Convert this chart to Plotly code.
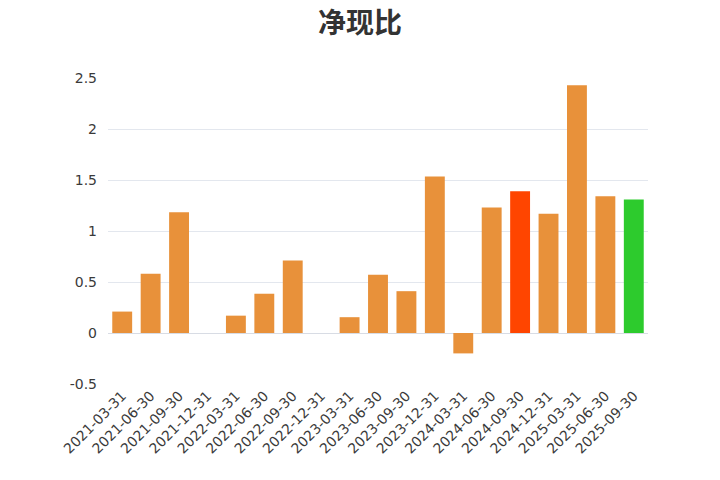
import plotly.graph_objects as go

categories = ["2021-03-31", "2021-06-30", "2021-09-30", "2021-12-31", "2022-03-31",
              "2022-06-30", "2022-09-30", "2022-12-31", "2023-03-31", "2023-06-30",
              "2023-09-30", "2023-12-31", "2024-03-31", "2024-06-30", "2024-09-30",
              "2024-12-31", "2025-03-31", "2025-06-30", "2025-09-30"]
values = [0.21, 0.58, 1.185, None, 0.17,
          0.385, 0.71, None, 0.155, 0.57,
          0.41, 1.535, -0.2, 1.23, 1.39,
          1.17, 2.43, 1.34, 1.31]
highlight = {"2024-09-30": "#FF4500", "2025-09-30": "#2DCB2D"}
base_color = "#E8913A"
tick_vals = [-0.5, 0, 0.5, 1, 1.5, 2, 2.5]
tick_text = ["-0.5", "0", "0.5", "1", "1.5", "2", "2.5"]

colors = [highlight.get(c, base_color) for c in categories]

fig = go.Figure(go.Bar(x=categories, y=values, marker=dict(color=colors, line=dict(width=0))))

fig.update_layout(
    width=720, height=480,
    paper_bgcolor="white", plot_bgcolor="white",
    margin=dict(l=108, r=72, t=78, b=96, autoexpand=False),
    bargap=0.3,
    showlegend=False,
    title=dict(text="<b>净现比</b>", x=0.5, xanchor="center", y=1 - 23 / 480, yanchor="middle",
               font=dict(family="Noto Sans CJK SC", size=28, color="#333333")),
    font=dict(family="DejaVu Sans", size=14, color="#3a3a3a"),
)
fig.update_xaxes(type="category", tickangle=-45, showgrid=False, showline=False,
                 ticks="", tickfont=dict(size=14, color="#3a3a3a"))
fig.update_yaxes(range=[-0.5, 2.5], tickvals=tick_vals, ticktext=tick_text,
                 showgrid=True, gridcolor="#E3E7EE", gridwidth=1,
                 zeroline=True, zerolinecolor="#D8DCE4", zerolinewidth=1,
                 showline=False, ticks="", ticklabelstandoff=10,
                 tickfont=dict(size=14, color="#3a3a3a"))

fig.write_html("out.html",
               config={"displayModeBar": False},
               post_script="document.body.style.margin='0';document.body.style.overflow='hidden';")
